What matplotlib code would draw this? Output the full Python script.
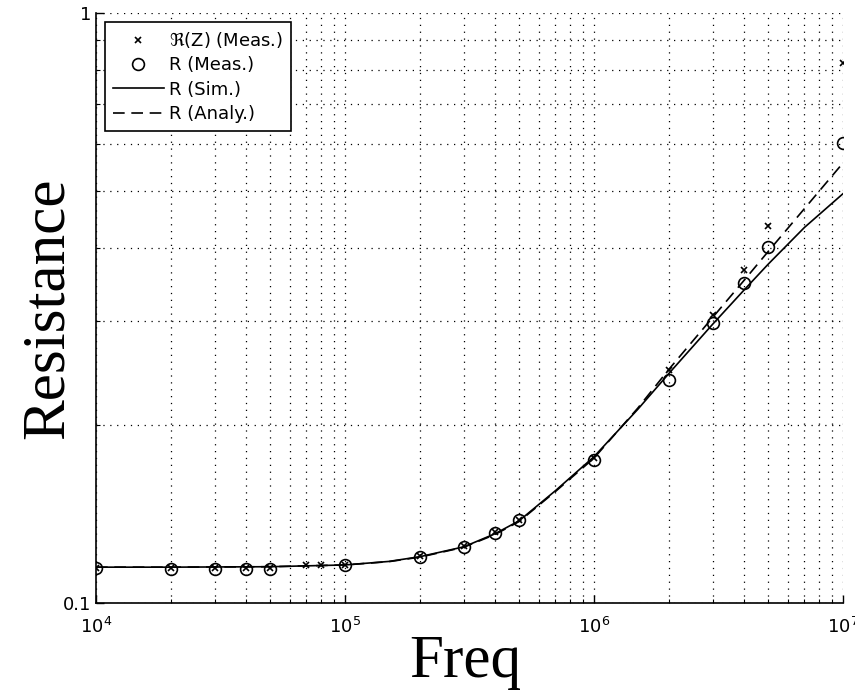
import matplotlib.pyplot as plt
from matplotlib.ticker import FixedLocator, FixedFormatter, LogLocator, NullFormatter

# measured points
f_meas = [1e4, 2e4, 3e4, 4e4, 5e4, 1e5, 2e5, 3e5, 4e5, 5e5, 1e6, 2e6, 3e6, 4e6, 5e6, 1e7]
r_meas = [0.1146, 0.1142, 0.1142, 0.1142, 0.1142, 0.1158, 0.1197, 0.1244, 0.1314, 0.1380,
          0.1747, 0.2390, 0.2983, 0.3486, 0.401, 0.602]
f_rez = [1e4, 2e4, 3e4, 4e4, 5e4, 7e4, 8e4, 1e5, 2e5, 3e5, 4e5, 5e5, 1e6, 2e6, 3e6, 4e6, 5e6, 1e7]
rez_meas = [0.1148, 0.1145, 0.1145, 0.1145, 0.1146, 0.1160, 0.1162, 0.1162, 0.1200, 0.1248, 0.1318,
            0.1384, 0.1760, 0.2480, 0.3077, 0.3667, 0.4355, 0.823]

# simulated / analytical curves
f_line = [1e4, 2e4, 5e4, 1e5, 1.5e5, 2e5, 3e5, 4e5, 5e5, 7e5, 1e6, 1.5e6, 2e6, 3e6, 4e6, 5e6, 7e6, 1e7]
r_sim = [0.1150, 0.1150, 0.1152, 0.1160, 0.1176, 0.1198, 0.1245, 0.1310, 0.1378, 0.1550,
         0.1770, 0.2130, 0.2450, 0.2970, 0.3390, 0.3750, 0.4330, 0.494]
r_analy = [0.1150, 0.1150, 0.1152, 0.1160, 0.1175, 0.1196, 0.1243, 0.1306, 0.1374, 0.1545,
           0.1760, 0.2140, 0.2490, 0.3050, 0.3520, 0.3940, 0.4660, 0.557]

fig = plt.figure(figsize=(8.55, 6.97), dpi=100)
ax = fig.add_axes([0.1123, 0.1349, 0.8737, 0.8465])

ax.plot(f_rez, rez_meas, 'kx', ms=5, mew=1.2, label=r'$\Re$(Z) (Meas.)')
ax.plot(f_meas, r_meas, 'ko', ms=8.5, mfc='none', mew=1.2, label='R (Meas.)')
ax.plot(f_line, r_sim, 'k-', lw=1.2, label='R (Sim.)')
ax.plot(f_line, r_analy, 'k--', lw=1.2, dashes=(7, 4), label='R (Analy.)')

ax.set_xscale('log')
ax.set_yscale('log')
ax.set_xlim(1e4, 1e7)
ax.set_ylim(0.1, 1)

ax.yaxis.set_major_locator(FixedLocator([0.1, 1]))
ax.yaxis.set_major_formatter(FixedFormatter(['0.1', '1']))
ax.yaxis.set_minor_locator(LogLocator(base=10, subs=range(2, 10)))
ax.yaxis.set_minor_formatter(NullFormatter())
ax.xaxis.set_minor_locator(LogLocator(base=10, subs=range(2, 10), numticks=20))
ax.xaxis.set_minor_formatter(NullFormatter())

ax.grid(True, which='both', color='k', linestyle=(0, (1, 4.5)), linewidth=0.9)
ax.tick_params(which='both', direction='in', labelsize=13, colors='k')
ax.tick_params(which='major', length=6, width=1)
ax.tick_params(which='minor', length=3, width=0.8)
ax.tick_params(axis='x', pad=10)
for s in ['top', 'right']:
    ax.spines[s].set_visible(False)
for s in ['left', 'bottom']:
    ax.spines[s].set_linewidth(1.2)

ax.set_xlabel('Freq', family='Liberation Serif', fontsize=44, va='baseline')
ax.xaxis.set_label_coords(0.495, -0.125)
ax.set_ylabel('Resistance', family='Liberation Serif', fontsize=44, va='baseline')
ax.yaxis.set_label_coords(-0.045, 0.5)

leg = ax.legend(loc='upper left', fontsize=13, frameon=True, fancybox=False,
                edgecolor='k', framealpha=1, borderaxespad=0.5, borderpad=0.45,
                handlelength=2.8, handletextpad=0.3, labelspacing=0.35)
leg.get_frame().set_linewidth(1.2)

fig.savefig('out.png', dpi=100)
